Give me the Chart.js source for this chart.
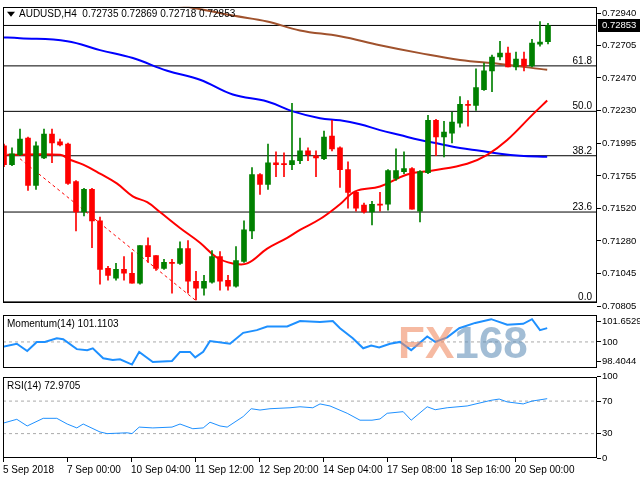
<!DOCTYPE html>
<html><head><meta charset="utf-8">
<script src="https://cdn.jsdelivr.net/npm/chart.js@4/dist/chart.umd.min.js"></script>
<style>
body{margin:0;background:#fff;width:640px;height:480px;overflow:hidden;position:relative}
canvas{position:absolute;left:0}
</style></head><body>
<canvas id="cMain" width="640" height="312" style="top:0;width:640px;height:312px"></canvas>
<canvas id="cMom" width="640" height="66" style="top:308px;width:640px;height:66px"></canvas>
<canvas id="cRsi" width="640" height="110" style="top:370px;width:640px;height:110px"></canvas>
<script>
// ---- DATA ----
const opens  = [.71974,.71837,.71909,.72031,.71685,.71887,.72060,.72003,.71988,.71714,.71491,.71657,.71426,.71080,.71008,.71073,.71044,.70972,.71246,.71173,.71080,.71123,.71116,.71224,.70986,.70936,.70979,.71166,.70993,.70950,.71130,.71354,.71765,.71693,.71851,.71844,.71837,.71866,.71938,.71902,.71880,.72046,.71959,.71801,.71635,.71541,.71491,.71548,.71548,.71736,.71786,.71808,.71498,.71779,.72161,.72039,.72067,.72140,.72277,.72269,.72385,.72522,.72623,.72651,.72551,.72608,.72558,.72716,.72735];
const highs  = [.71988,.71959,.72096,.72039,.72003,.72096,.72096,.72024,.71995,.71721,.71664,.71664,.71455,.71094,.71116,.71166,.71195,.71246,.71303,.71173,.71145,.71145,.71274,.71282,.71058,.71029,.71209,.71202,.71029,.71238,.71426,.71815,.71772,.71988,.71930,.71923,.72284,.72031,.71959,.71938,.72082,.72161,.71967,.71858,.71642,.71556,.71570,.71635,.71801,.71952,.71930,.71815,.71794,.72197,.72168,.72154,.72219,.72334,.72305,.72536,.72579,.72637,.72738,.72695,.72659,.72659,.72752,.72882,.72869];
const lows   = [.71822,.71830,.71902,.71649,.71657,.71880,.71851,.71974,.71693,.71354,.71462,.71231,.70964,.70993,.70993,.70993,.70972,.70964,.71123,.71065,.71073,.70899,.71109,.70899,.70849,.70885,.70972,.70921,.70921,.70943,.71123,.71296,.71620,.71657,.71750,.71750,.71801,.71844,.71866,.71750,.71873,.71938,.71671,.71520,.71498,.71483,.71397,.71498,.71505,.71721,.71772,.71512,.71419,.71772,.71902,.71894,.71995,.72111,.72118,.72233,.72378,.72370,.72601,.72551,.72529,.72522,.72551,.72702,.72718];
const closes = [.71837,.71916,.72024,.71685,.71974,.72060,.71995,.71981,.71700,.71491,.71657,.71426,.71073,.71029,.71073,.71044,.70972,.71246,.71166,.71080,.71123,.71116,.71224,.70986,.70936,.70986,.71166,.70986,.70950,.71137,.71361,.71765,.71693,.71851,.71837,.71837,.71866,.71938,.71909,.71887,.72039,.71952,.71801,.71635,.71520,.71491,.71548,.71541,.71794,.71794,.71808,.71512,.71786,.72161,.72039,.72075,.72147,.72277,.72269,.72399,.72522,.72623,.72651,.72551,.72608,.72558,.72724,.72731,.72853];

const ma20X = [0.4,7,8.25,9.9,12,14.1,16.1,17.9,19.5,22,24.5,26.6,28.6,30.4,32.9,35.4,37,39.5,42,43.9,47,50.4,53.6,57.9,60.4,62.9,66.1,67.9];
const ma20Y = [.71909,.71909,.71873,.71837,.71772,.71700,.71606,.71563,.71491,.71375,.71267,.71159,.71116,.71116,.71224,.71303,.71361,.71440,.71548,.71642,.71678,.71765,.71794,.71844,.71909,.72017,.72204,.72305];
const ma100X = [-0.5,2,7.9,12,16.1,20.4,24.5,28.6,32.9,36.1,39.5,42,44.5,47,49.5,52,54.5,57,59.5,62,64.5,67.9];
const ma100Y = [.72767,.72760,.72738,.72673,.72615,.72522,.72457,.72349,.72298,.72226,.72176,.72161,.72132,.72089,.72053,.72017,.71988,.71959,.71938,.71916,.71902,.71894];
const ma200X = [18.25,22.9,28.6,32.9,37,42,47,52,57,62,67.9];
const ma200Y = [.73034,.72990,.72925,.72882,.72817,.72774,.72709,.72651,.72601,.72572,.72529];
const trendX = [2,23.9];
const trendY = [.71880,.70849];

const fibLevels = [.72558,.72226,.71902,.71491,.70835];
const fibNames  = ['61.8','50.0','38.2','23.6','0.0'];
const lastPrice = .72853;
const priceTicks = [.72940,.72705,.72470,.72230,.71995,.71755,.71520,.71280,.71045,.70805];

const momX = [-0.5,1.6,2.9,4.1,5.1,6.6,7.4,9.1,10.4,11.1,12.4,13.6,14.5,16,16.9,18.6,21,22,23.25,23.9,24.9,25.75,28.25,29.9,31.6,32.9,35.4,37,39.5,41.1,42,43.6,44.9,45.9,46.9,48.25,49.5,50.9,52.9,53.9,55.4,56.9,58.9,60.9,62.9,64.9,66,67,67.9];
const momY = [99.56,99.85,99.27,100,100,100.29,100.22,99.42,99.34,99.49,98.69,98.54,98.61,98.18,99.20,98.39,98.47,99.20,99.20,98.76,99.20,100.07,99.85,100.73,100.95,101.24,101.24,101.68,101.61,101.68,101.10,100.29,99.49,99.71,99.56,99.85,100,99.34,100.44,100,100.37,101.10,101.53,101.83,101.39,101.46,101.83,100.95,101.11];
const momTicks = [101.6529,100,98.4044];

const rsiX = [-0.5,1.6,2.9,4.9,6.6,7.9,9.1,9.9,12,12.9,15.4,16,16.9,18.6,21,22,23.6,24.9,25.75,27,27.9,29.9,30.9,32,33.25,35.75,37,38.6,39.5,40.75,42.9,44.5,46,47,47.9,49.9,50.9,52.9,53.9,55.4,57.9,60.9,61.9,62.9,64.9,66,67.9];
const rsiY = [41.8,47.6,39.4,48.8,48.8,41.8,37,41.8,32,30,31,30,38,37,38,41.8,36,37,44,39.4,38,51,60.6,59,60.6,61.8,63,61.8,66.5,64,55,46.5,46.5,48,55,57,46.5,63,59.4,61.8,64,71,72.5,69,66.5,70,72.97];
const rsiTicks = [100,70,30,0];

const timeLabels = ['5 Sep 2018','7 Sep 00:00','10 Sep 04:00','11 Sep 12:00','12 Sep 20:00','14 Sep 04:00','17 Sep 08:00','18 Sep 16:00','20 Sep 00:00'];

// ---- helpers ----
const XMIN=-0.125, XMAX=74.125;
const FONT='"Liberation Sans", Arial, sans-serif';
const pts=(xs,ys)=>xs.map((x,i)=>({x:x,y:ys[i]}));
const frame={id:'frame',afterDraw(c){const a=c.chartArea,g=c.ctx;g.save();g.strokeStyle='#000';g.lineWidth=1;g.strokeRect(Math.round(a.left)+0.5,Math.round(a.top)+0.5,Math.round(a.right-a.left)-1,Math.round(a.bottom-a.top)-1);g.restore();}};
function yAxis(min,max,ticks,fmt){
  return {position:'right',min:min,max:max,
    afterFit(s){s.width=43;},
    afterBuildTicks(s){s.ticks=ticks.map(v=>({value:v}));},
    grid:{drawOnChartArea:false,tickLength:4,color:'#000'},border:{display:false},
    ticks:{color:'#000',font:{family:FONT,size:9.5},padding:1,autoSkip:false,callback:fmt}};
}
const xHidden={type:'linear',min:XMIN,max:XMAX,display:false,offset:false};
const common={responsive:false,animation:false,events:[],plugins:{legend:{display:false},tooltip:{enabled:false}}};

// ---- main chart ----
const idx=opens.map((_,i)=>i);
const candleCol=idx.map(i=>closes[i]>=opens[i]?'#008000':'#ff0000');
const ds=[];
ds.push({type:'bar',data:idx.map(i=>({x:i,y:[opens[i],closes[i]]})),backgroundColor:candleCol,barThickness:5,minBarLength:1,grouped:false,order:0});
ds.push({type:'bar',data:idx.map(i=>({x:i,y:[lows[i],highs[i]]})),backgroundColor:candleCol,barThickness:1,grouped:false,order:1});
ds.push({type:'line',data:pts(ma20X,ma20Y),borderColor:'#ff0000',borderWidth:2,pointRadius:0,tension:0.4,order:3});
ds.push({type:'line',data:pts(ma100X,ma100Y),borderColor:'#0000ff',borderWidth:2,pointRadius:0,tension:0.4,order:3});
ds.push({type:'line',data:pts(ma200X,ma200Y),borderColor:'#a0522d',borderWidth:2,pointRadius:0,tension:0.4,order:3});
ds.push({type:'line',data:pts(trendX,trendY),borderColor:'#ff0000',borderWidth:1,borderDash:[3,3],pointRadius:0,order:3});
fibLevels.concat([lastPrice]).forEach(v=>ds.push({type:'line',data:[{x:XMIN,y:v},{x:XMAX,y:v}],borderColor:'#000',borderWidth:1,pointRadius:0,order:4}));

const mainText={id:'mainText',afterDraw(c){
  const g=c.ctx,y=c.scales.y,a=c.chartArea;g.save();
  g.font='10px '+FONT;g.fillStyle='#000';g.textBaseline='bottom';g.textAlign='right';
  fibLevels.forEach((v,i)=>g.fillText(fibNames[i],a.right-5,Math.round(y.getPixelForValue(v))));
  g.textAlign='left';g.textBaseline='middle';
  g.fillText('AUDUSD,H4  '+[opens[68],highs[68],lows[68],closes[68]].map(v=>v.toFixed(5)).join(' '),a.left+16,a.top+8);
  g.beginPath();g.moveTo(a.left+4,a.top+5);g.lineTo(a.left+12,a.top+5);g.lineTo(a.left+8,a.top+10);g.closePath();g.fill();
  const py=Math.round(y.getPixelForValue(lastPrice));
  g.font='9.5px '+FONT;
  g.fillRect(a.right+1,py-6,42,13);g.fillStyle='#fff';g.fillText(lastPrice.toFixed(5),a.right+5,py+0.5);
  g.restore();}};
new Chart(document.getElementById('cMain'),{type:'bar',data:{datasets:ds},
  options:Object.assign({},common,{layout:{padding:{left:3,top:3,bottom:9,right:0}},
    scales:{x:xHidden,y:yAxis(.70827,.72990,priceTicks,v=>v.toFixed(5))}}),
  plugins:[frame,mainText]});

// ---- momentum ----
const momText={id:'momText',afterDraw(c){
  const g=c.ctx,a=c.chartArea;g.save();g.textBaseline='middle';
  g.font='bold 44px "Liberation Sans", sans-serif';
  g.fillStyle='rgba(240,140,100,0.6)';g.fillText('FX',398,a.top+31);
  const w=g.measureText('FX').width;
  g.fillStyle='rgba(100,145,185,0.6)';g.fillText('168',398+w,a.top+31);
  g.font='10px '+FONT;g.fillStyle='#000';g.fillText('Momentum(14) 101.1103',a.left+4,a.top+10);
  g.restore();}};
new Chart(document.getElementById('cMom'),{type:'line',data:{datasets:[
  {data:pts(momX,momY),borderColor:'#1e90ff',borderWidth:2,pointRadius:0},
  {data:[{x:XMIN,y:100},{x:XMAX,y:100}],borderColor:'#aaa',borderWidth:1,borderDash:[3,3],pointRadius:0}]},
  options:Object.assign({},common,{layout:{padding:{left:3,top:4,bottom:4}},
    scales:{x:xHidden,y:yAxis(97.96,102.19,momTicks,v=>String(v))}}),
  plugins:[frame,momText]});

// ---- RSI ----
const rsiText={id:'rsiText',afterDraw(c){const g=c.ctx,a=c.chartArea;g.save();g.font='10px '+FONT;g.fillStyle='#000';g.textBaseline='middle';g.fillText('RSI(14) 72.9705',a.left+4,a.top+10);g.restore();}};
const xTickVals=timeLabels.map((_,k)=>XMIN+8*k);
new Chart(document.getElementById('cRsi'),{type:'line',data:{datasets:[
  {data:pts(rsiX,rsiY),borderColor:'#1e90ff',borderWidth:1,pointRadius:0},
  {data:[{x:XMIN,y:70},{x:XMAX,y:70}],borderColor:'#aaa',borderWidth:1,borderDash:[3,3],pointRadius:0},
  {data:[{x:XMIN,y:30},{x:XMAX,y:30}],borderColor:'#aaa',borderWidth:1,borderDash:[3,3],pointRadius:0}]},
  options:Object.assign({},common,{layout:{padding:{left:3,top:3,bottom:0}},
    scales:{x:{type:'linear',min:XMIN,max:XMAX,offset:false,
      afterFit(s){s.height=22;},
      afterBuildTicks(s){s.ticks=xTickVals.map(v=>({value:v}));},
      grid:{drawOnChartArea:false,tickLength:4,color:'#000'},border:{display:false},
      ticks:{align:'start',maxRotation:0,autoSkip:false,color:'#000',font:{family:FONT,size:10},padding:2,
        callback:(v,i)=>timeLabels[i]}},
      y:yAxis(0,100,rsiTicks,v=>String(v))}}),
  plugins:[frame,rsiText]});
</script>
</body></html>
